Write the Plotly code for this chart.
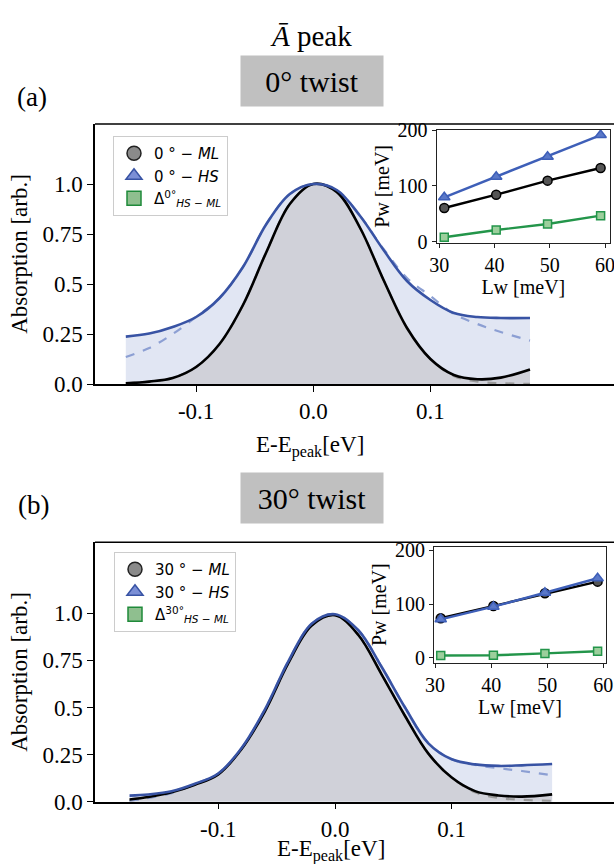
import plotly.graph_objects as go

W, H = 614, 864
def px(x):
    return x / W
def py(y):
    return 1 - y / H

# ---------------- data: panel (a) 0 deg twist ----------------
E_a = [-0.16, -0.14, -0.12, -0.10, -0.08, -0.06, -0.04, -0.02, 0.0, 0.02,
       0.04, 0.06, 0.08, 0.10, 0.12, 0.14, 0.16, 0.185]
ML_a = [0.003, 0.012, 0.03, 0.085, 0.20, 0.395, 0.66, 0.90, 1.0, 0.96,
        0.78, 0.52, 0.28, 0.125, 0.045, 0.024, 0.032, 0.073]
MLfit_a = [0.003, 0.012, 0.03, 0.085, 0.20, 0.395, 0.66, 0.90, 1.0, 0.96,
           0.78, 0.52, 0.28, 0.125, 0.04, 0.012, 0.004, 0.001]
HS_a = [0.237, 0.252, 0.285, 0.335, 0.43, 0.585, 0.80, 0.95, 1.0, 0.97,
        0.84, 0.67, 0.515, 0.42, 0.355, 0.335, 0.33, 0.33]
HSfit_a = [0.135, 0.18, 0.25, 0.335, 0.43, 0.585, 0.80, 0.95, 1.0, 0.97,
           0.84, 0.675, 0.53, 0.44, 0.35, 0.30, 0.26, 0.217]

# inset (a)
Lw_a = [30.9, 40.3, 49.6, 59.2]
PwML_a = [60.3, 84.2, 109.3, 132.0]
PwHS_a = [79.5, 116.4, 152.0, 191.0]
Delta_a = [7.9, 21.0, 31.7, 46.6]

# ---------------- data: panel (b) 30 deg twist ----------------
E_b = [-0.176, -0.16, -0.14, -0.12, -0.10, -0.08, -0.06, -0.04, -0.02, 0.0,
       0.02, 0.04, 0.06, 0.08, 0.10, 0.12, 0.14, 0.16, 0.186]
ML_b = [0.012, 0.025, 0.05, 0.09, 0.145, 0.28, 0.48, 0.735, 0.935, 0.99,
        0.885, 0.675, 0.455, 0.255, 0.128, 0.056, 0.033, 0.027, 0.039]
MLfit_b = [0.005, 0.02, 0.05, 0.09, 0.145, 0.28, 0.48, 0.735, 0.935, 0.99,
           0.885, 0.675, 0.455, 0.255, 0.128, 0.05, 0.02, 0.01, 0.004]
HS_b = [0.032, 0.038, 0.055, 0.095, 0.15, 0.285, 0.49, 0.745, 0.945, 0.995,
        0.91, 0.715, 0.50, 0.31, 0.225, 0.198, 0.19, 0.193, 0.20]
HSfit_b = [0.005, 0.02, 0.045, 0.095, 0.15, 0.285, 0.49, 0.745, 0.945, 0.995,
           0.91, 0.715, 0.50, 0.31, 0.225, 0.195, 0.178, 0.163, 0.14]

# inset (b)
Lw_b = [31.0, 40.4, 49.6, 59.0]
PwML_b = [73.4, 96.3, 120.0, 141.6]
PwHS_b = [71.5, 95.0, 121.0, 148.0]
Delta_b = [4.0, 4.5, 8.0, 12.0]

# labels
xticks_main = [-0.1, 0.0, 0.1]
xticktext_main = ["-0.1", "0.0", "0.1"]
yticks_main = [0.0, 0.25, 0.5, 0.75, 1.0]
yticktext_main = ["0.0", "0.25", "0.5", "0.75", "1.0"]
xticks_in = [30, 40, 50, 60]
yticks_in = [0, 100, 200]

BLUE = "#3853a4"
BLUE_D = "#8c9fd3"
FILL_B = "#e1e6f3"
FILL_G = "#d0d1d9"
GREEN = "#23954a"
SERIF = "Liberation Serif"
SANS = "DejaVu Sans"

fig = go.Figure()

def main_panel(E, ML, MLfit, HS, HSfit, xa, ya):
    fig.add_trace(go.Scatter(x=E, y=HS, mode="lines", line=dict(width=0, shape="spline"),
                             fill="tozeroy", fillcolor=FILL_B, showlegend=False,
                             xaxis=xa, yaxis=ya, hoverinfo="skip"))
    fig.add_trace(go.Scatter(x=E, y=ML, mode="lines", line=dict(width=0, shape="spline"),
                             fill="tozeroy", fillcolor=FILL_G, showlegend=False,
                             xaxis=xa, yaxis=ya, hoverinfo="skip"))
    fig.add_trace(go.Scatter(x=E, y=MLfit, mode="lines",
                             line=dict(width=2.2, color="#9a9a9a", dash="dash", shape="spline"),
                             showlegend=False, xaxis=xa, yaxis=ya))
    fig.add_trace(go.Scatter(x=E, y=HSfit, mode="lines",
                             line=dict(width=2.2, color=BLUE_D, dash="dash", shape="spline"),
                             showlegend=False, xaxis=xa, yaxis=ya))
    fig.add_trace(go.Scatter(x=E, y=ML, mode="lines",
                             line=dict(width=2.6, color="black", shape="spline"),
                             showlegend=False, xaxis=xa, yaxis=ya))
    fig.add_trace(go.Scatter(x=E, y=HS, mode="lines",
                             line=dict(width=2.6, color=BLUE, shape="spline"),
                             showlegend=False, xaxis=xa, yaxis=ya))

def inset(Lw, ML, HS, D, xa, ya):
    fig.add_trace(go.Scatter(x=Lw, y=D, mode="lines+markers",
                             line=dict(width=2.4, color=GREEN),
                             marker=dict(symbol="square", size=8, color="#9ccf9c",
                                         line=dict(color=GREEN, width=1.5)),
                             showlegend=False, xaxis=xa, yaxis=ya))
    fig.add_trace(go.Scatter(x=Lw, y=ML, mode="lines+markers",
                             line=dict(width=2.4, color="black"),
                             marker=dict(symbol="circle", size=9, color="#555555",
                                         line=dict(color="black", width=1.5)),
                             showlegend=False, xaxis=xa, yaxis=ya))
    fig.add_trace(go.Scatter(x=Lw, y=HS, mode="lines+markers",
                             line=dict(width=2.4, color="#3e5fb8"),
                             marker=dict(symbol="triangle-up", size=10, color="#5a78c8",
                                         line=dict(color="#3e5fb8", width=1.5)),
                             showlegend=False, xaxis=xa, yaxis=ya))

def legend_entries(names, legend, xa, ya):
    specs = [("circle", "#8a8a8a", "#222222"),
             ("triangle-up", "#7b8fd6", BLUE),
             ("square", "#8fbf8f", "#1f8a3a")]
    for name, (sym, fc, ec) in zip(names, specs):
        fig.add_trace(go.Scatter(x=[None], y=[None], mode="markers", name=name,
                                 marker=dict(symbol=sym, size=14, color=fc,
                                             line=dict(color=ec, width=1.5)),
                                 legend=legend, xaxis=xa, yaxis=ya, showlegend=True))

main_panel(E_a, ML_a, MLfit_a, HS_a, HSfit_a, "x", "y")
inset(Lw_a, PwML_a, PwHS_a, Delta_a, "x2", "y2")
main_panel(E_b, ML_b, MLfit_b, HS_b, HSfit_b, "x3", "y3")
inset(Lw_b, PwML_b, PwHS_b, Delta_b, "x4", "y4")

legend_entries(["0 ° − <i>ML</i>", "0 ° − <i>HS</i>",
                "Δ<sup>0°</sup><sub><i>HS − ML</i></sub>"],
               "legend", "x", "y")
legend_entries(["30 ° − <i>ML</i>", "30 ° − <i>HS</i>",
                "Δ<sup>30°</sup><sub><i>HS − ML</i></sub>"],
               "legend2", "x3", "y3")

tickf = dict(family=SERIF, size=23, color="black")
inf = dict(family=SERIF, size=20, color="black")

def main_x(domain, rng, anchor):
    return dict(domain=domain, range=rng, anchor=anchor, showline=True, linecolor="black",
                linewidth=1.5, ticks="outside", ticklen=6, tickwidth=1.3, tickcolor="black",
                tickvals=xticks_main, ticktext=xticktext_main, tickfont=tickf,
                showgrid=False, zeroline=False, automargin=False)

def main_y(domain, rng, anchor):
    return dict(domain=domain, range=rng, anchor=anchor, showline=True, linecolor="black",
                linewidth=1.5, ticks="outside", ticklen=6, tickwidth=1.3, tickcolor="black",
                tickvals=yticks_main, ticktext=yticktext_main, tickfont=tickf,
                showgrid=False, zeroline=False, automargin=False,
                title=dict(text="Absorption [arb.]", font=tickf, standoff=8))

def in_x(domain, rng, anchor):
    return dict(domain=domain, range=rng, anchor=anchor, showline=True, mirror=True,
                linecolor="#222222", linewidth=1.2, ticks="outside", ticklen=4,
                tickwidth=1.1, tickcolor="#222222", tickvals=xticks_in, tickfont=inf,
                showgrid=False, zeroline=False, automargin=False,
                ticklabeloverflow="allow",
                title=dict(text="Lw [meV]", font=inf, standoff=2))

def in_y(domain, rng, anchor):
    return dict(domain=domain, range=rng, anchor=anchor, showline=True, mirror=True,
                linecolor="#222222", linewidth=1.2, ticks="outside", ticklen=4,
                tickwidth=1.1, tickcolor="#222222", tickvals=yticks_in, tickfont=inf,
                showgrid=False, zeroline=False, automargin=False,
                title=dict(text="Pw [meV]", font=inf, standoff=2))

legf = dict(family=SANS, size=15, color="black")

fig.update_layout(
    width=W, height=H, margin=dict(l=0, r=0, t=0, b=0, autoexpand=False),
    paper_bgcolor="white", plot_bgcolor="white",
    xaxis=main_x([px(95), 1.0], [-0.1863, 0.2567], "y"),
    yaxis=main_y([py(384), py(124)], [0, 1.3], "x"),
    xaxis2=in_x([px(436.7), px(610)], [29.53, 60.9], "y2"),
    yaxis2=in_y([py(242.7), py(130)], [-1.8, 200], "x2"),
    xaxis3=main_x([px(95), 1.0], [-0.2056, 0.239], "y3"),
    yaxis3=main_y([py(801.7), py(542.3)], [0, 1.377], "x3"),
    xaxis4=in_x([px(434), px(606)], [29.8, 60.5], "y4"),
    yaxis4=in_y([py(662.7), py(546.7)], [-9.3, 206.7], "x4"),
    legend=dict(x=px(113), y=py(136), xanchor="left", yanchor="top", font=legf,
                bgcolor="white", bordercolor="#cccccc", borderwidth=1, tracegroupgap=0),
    legend2=dict(x=px(114), y=py(552), xanchor="left", yanchor="top", font=legf,
                 bgcolor="white", bordercolor="#cccccc", borderwidth=1, tracegroupgap=0),
    showlegend=True,
)

# top spines of main axes
for xa, ya in [("x", "y"), ("x3", "y3")]:
    fig.add_shape(type="line", xref=f"{xa} domain", yref=f"{ya} domain",
                  x0=0, x1=1, y0=1, y1=1, line=dict(color="black", width=1.5))

blk = "black"
xtitle = "E-E<sub>peak</sub>[eV]"
anns = [
    dict(text="<i>Ā</i> peak", x=px(311), y=py(36), font=dict(family=SERIF, size=29, color=blk)),
    dict(text="0° twist", x=px(312), y=py(81), font=dict(family=SERIF, size=30, color=blk),
         bgcolor="#c0c0c0", width=140, height=48, borderpad=1),
    dict(text="30° twist", x=px(312), y=py(497.5), font=dict(family=SERIF, size=30, color=blk),
         bgcolor="#c0c0c0", width=140, height=48, borderpad=1),
    dict(text="(a)", x=px(32), y=py(97), font=dict(family=SERIF, size=27, color=blk)),
    dict(text="(b)", x=px(33), y=py(505), font=dict(family=SERIF, size=27, color=blk)),
    dict(text=xtitle, x=px(310), y=py(446), font=tickf),
    dict(text=xtitle, x=px(331), y=py(850), font=tickf),
]
for a in anns:
    fig.add_annotation(xref="paper", yref="paper", showarrow=False,
                       xanchor="center", yanchor="middle", **a)

fig.write_html("out.html", config={"displayModeBar": False},
               post_script="document.body.style.margin='0';document.body.style.overflow='hidden';")
